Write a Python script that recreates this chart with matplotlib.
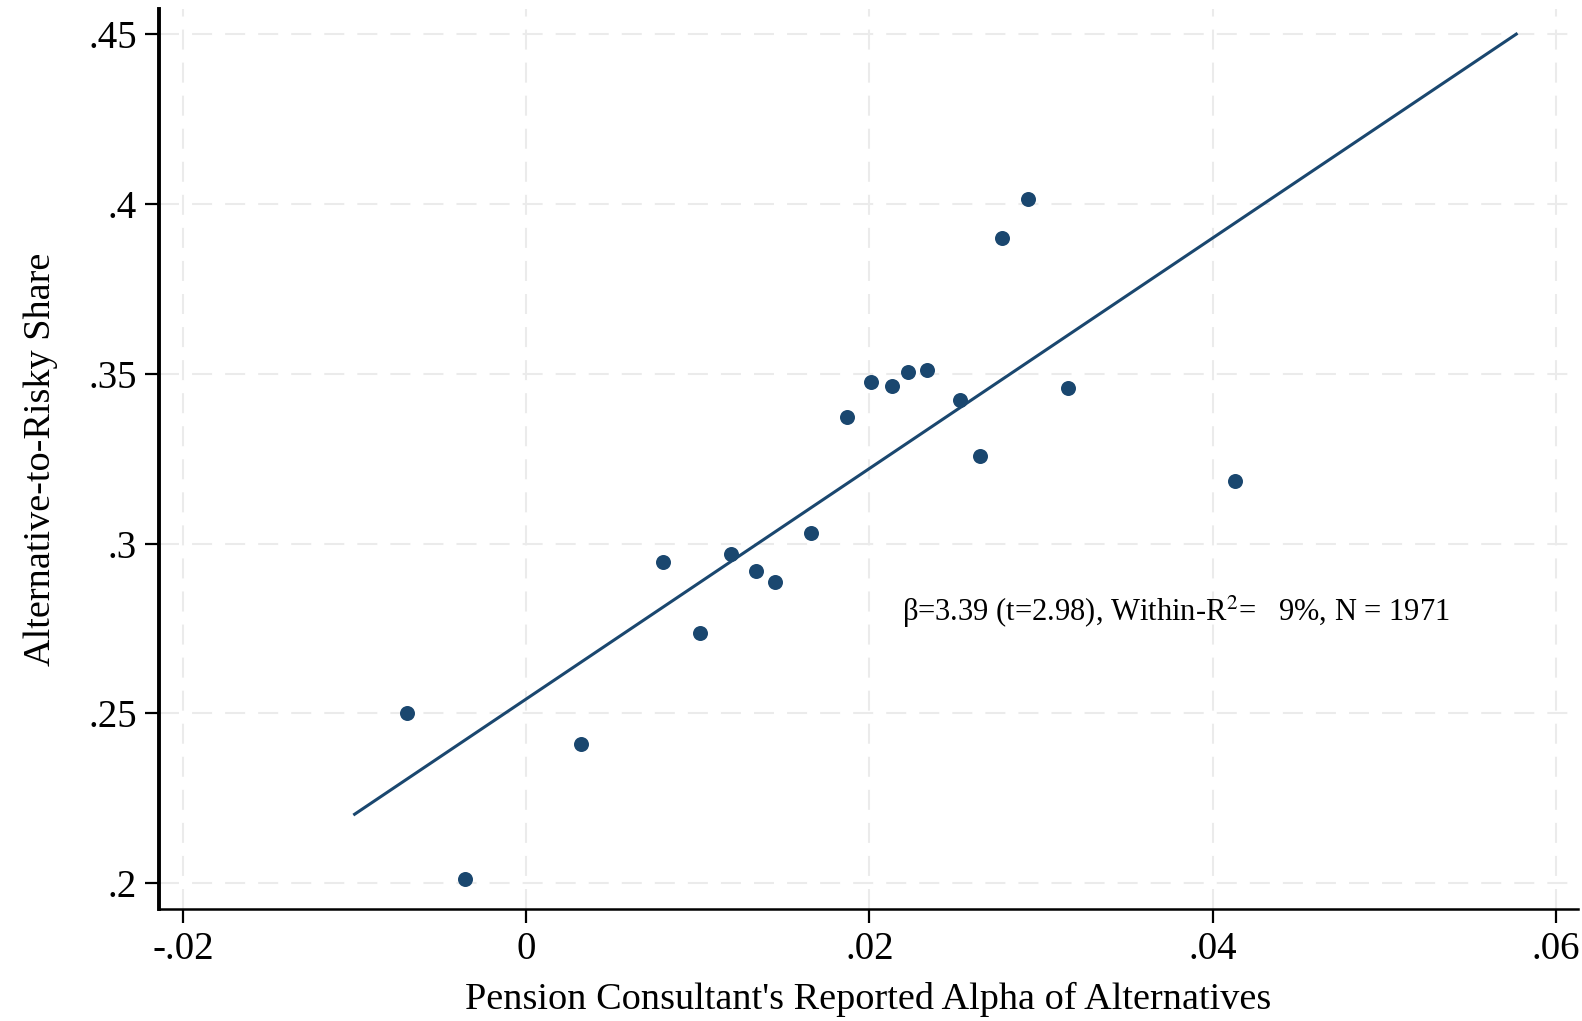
import matplotlib
matplotlib.use("Agg")
import matplotlib.pyplot as plt

# binned averages
alpha = [-0.00696, -0.00354, 0.00318, 0.00796, 0.01014, 0.01191, 0.01338, 0.01450,
         0.01662, 0.01869, 0.02010, 0.02134, 0.02223, 0.02335, 0.02529, 0.02647,
         0.02771, 0.02924, 0.03160, 0.04133]
share = [0.2500, 0.2012, 0.2411, 0.2947, 0.2736, 0.2970, 0.2920, 0.2887,
         0.3030, 0.3372, 0.3476, 0.3464, 0.3506, 0.3512, 0.3423, 0.3259,
         0.3899, 0.4015, 0.3458, 0.3184]

# fitted line end points
fit_x = [-0.0100, 0.0577]
fit_y = [0.2203, 0.4500]

xticks = [-0.02, 0, 0.02, 0.04, 0.06]
xticklabels = ['-.02', '0', '.02', '.04', '.06']
yticks = [0.2, 0.25, 0.3, 0.35, 0.4, 0.45]
yticklabels = ['.2', '.25', '.3', '.35', '.4', '.45']

note = r'β=3.39 (t=2.98), Within-R$^2$=   9%, N = 1971'

NAVY = '#1a476f'

plt.rcParams['font.family'] = ['Liberation Serif', 'DejaVu Serif']
plt.rcParams['mathtext.fontset'] = 'stix'
plt.rcParams['lines.scale_dashes'] = False

fig = plt.figure(figsize=(15.82, 10.21), dpi=100)
ax = fig.add_axes([0.1005, 0.1097, 0.897, 0.8815])

ax.plot(alpha, share, 'o', color=NAVY, ms=10.8, mew=0, zorder=3)
ax.plot(fit_x, fit_y, '-', color=NAVY, lw=2.2, zorder=2)

ax.set_xlim(-0.0214, 0.0613)
ax.set_ylim(0.1924, 0.4574)
ax.set_xticks(xticks)
ax.set_xticklabels(xticklabels)
ax.set_yticks(yticks)
ax.set_yticklabels(yticklabels)

ax.grid(True, color='#ebebeb', lw=1.5, linestyle=(0, (14.4, 9.4)), zorder=0)
ax.set_axisbelow(True)

for s in ['top', 'right']:
    ax.spines[s].set_visible(False)
ax.spines['left'].set_linewidth(2.8)
ax.spines['bottom'].set_linewidth(1.8)

ax.tick_params(axis='both', direction='out', length=10, width=1.6, labelsize=28, pad=6)

ax.set_xlabel("Pension Consultant's Reported Alpha of Alternatives", fontsize=27.5, labelpad=10)
ax.set_ylabel('Alternative-to-Risky Share', fontsize=27.5, labelpad=22)

ax.text(0.02190, 0.2798, note, fontsize=22, ha='left', va='center')

fig.savefig('out.png', dpi=100)
